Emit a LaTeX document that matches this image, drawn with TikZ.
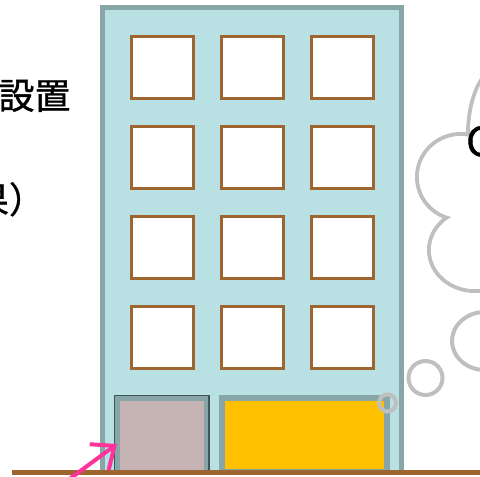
\documentclass[tikz,border=0pt]{standalone}
\usepackage{fontspec}
\newfontfamily\jpfont{Noto Sans CJK JP}[FakeBold=1]
\usetikzlibrary{arrows.meta}
\definecolor{wallfill}{HTML}{B9E0E3}
\definecolor{walledge}{HTML}{88A6A8}
\definecolor{frame}{HTML}{9E6530}
\definecolor{doorpink}{HTML}{C6B3B3}
\definecolor{doordark}{HTML}{3E5555}
\definecolor{shutter}{HTML}{FFC000}
\definecolor{puff}{HTML}{BFBFBF}
\definecolor{pointer}{HTML}{FF3399}
\tikzset{
  wall/.style={draw=walledge, fill=wallfill, line width=5pt, inner sep=0pt, outer sep=0pt, anchor=north west},
  window/.style={draw=frame, fill=white, line width=3pt, minimum width=62pt, minimum height=62pt, inner sep=0pt, outer sep=0pt},
  doorbox/.style={draw=walledge, line width=5pt, inner sep=0pt, outer sep=0pt, anchor=north west},
  groundline/.style={draw=frame, line width=5pt},
  puffline/.style={draw=puff, line width=4pt},
  pointerarrow/.style={draw=pointer, line width=4pt, line cap=round, -{Straight Barb[length=19pt, width=32pt]}},
  jptext/.style={font=\jpfont\fontsize{36}{42}\selectfont, inner sep=0pt, outer sep=0pt},
}
\begin{document}
\begin{tikzpicture}[x=1pt, y=-1pt]
\useasboundingbox (0,0) rectangle (480,477);

% building body
\node[wall, minimum width=298.5pt, minimum height=464.5pt] (building) at (102.5,7.5) {};

% windows, 3 columns x 4 rows
\foreach \c [count=\i] in {162,252,342} {
  \foreach \r [count=\j] in {67,157,247,337} {
    \node[window] (win-\i-\j) at (\c,\r) {};
  }
}

% entrance door with dark outline
\node[doorbox, fill=doorpink, minimum width=89.5pt, minimum height=74pt] (door) at (117,398) {};
\draw[doordark, line width=1.2pt] ([shift={(-2.5,-2.5)}]door.north west) rectangle ([shift={(2.5,2.5)}]door.south east);

% shutter
\node[doorbox, fill=shutter, line width=6pt, minimum width=165pt, minimum height=74pt] (shutter) at (222,398) {};

% ground
\coordinate (groundL) at (12,472.5);
\coordinate (groundR) at (480,472.5);
\draw[groundline] (groundL) -- (groundR);

% thought cloud: outlines, then white fill to hide inner arcs
\draw[puffline] (500,135) ellipse [x radius=32pt, y radius=68pt];
\draw[puffline] (461,177) ellipse [x radius=44pt, y radius=43pt];
\draw[puffline] (475,250) ellipse [x radius=46pt, y radius=41pt];
\fill[white] (500,135) ellipse [x radius=30pt, y radius=66pt];
\fill[white] (461,177) ellipse [x radius=42pt, y radius=41pt];
\fill[white] (475,250) ellipse [x radius=44pt, y radius=39pt];
% trailing bubbles
\draw[puffline] (485,341) ellipse [x radius=33pt, y radius=29pt];
\draw[puffline] (425.5,378) circle [radius=17pt];
\draw[puffline] (387.5,403) circle [radius=8.5pt];

\node[anchor=base west, inner sep=0pt, font=\jpfont\fontsize{40}{48}\selectfont] (cloudtext) at (466,156) {C};

% captions
\node[jptext, anchor=base east] (line1) at (70.5,109) {設置};
\node[jptext, anchor=base east] (line2) at (45,213) {果）};

% pointer to the door
\coordinate (arrowtail) at (60,486);
\draw[pointerarrow] (arrowtail) -- ([xshift=0pt, yshift=-9pt]door.west);
\end{tikzpicture}
\end{document}
